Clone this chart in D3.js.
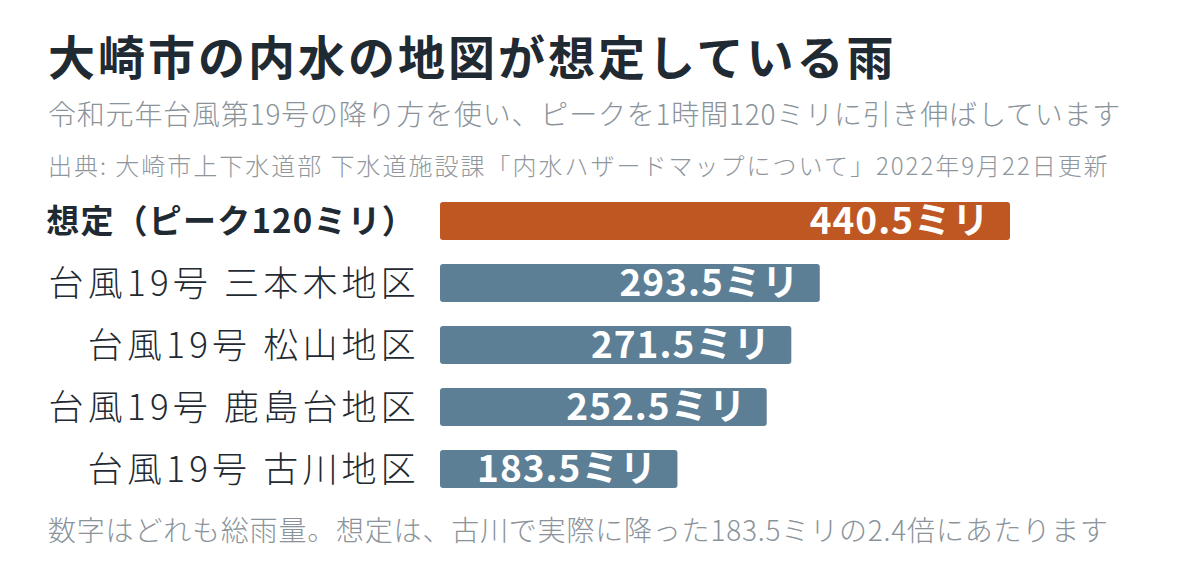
<!DOCTYPE html>
<html>
<head>
<meta charset="utf-8">
<script src="https://cdn.jsdelivr.net/npm/d3@7"></script>
<style>
  body { margin: 0; background: #fff; }
  svg { font-family: "Noto Sans CJK JP", "Noto Sans", sans-serif; }
  .title { font-size: 47px; font-weight: 700; fill: #1f2a33; letter-spacing: 3px; }
  .sub { font-size: 28px; font-weight: 300; fill: #8a939a; letter-spacing: 0.8px; }
  .source { font-size: 24px; font-weight: 300; fill: #8f979d; letter-spacing: 2px; }
  .cat { font-size: 35px; font-weight: 300; fill: #1f2a33; letter-spacing: 4.2px; }
  .cat.main { font-weight: 700; font-size: 33px; letter-spacing: 1.2px; }
  .val { font-size: 37px; font-weight: 700; fill: #fff; letter-spacing: 1px; }
  .note { font-size: 28px; font-weight: 300; fill: #8a939a; letter-spacing: 0.8px; }
</style>
</head>
<body>
<svg id="chart" width="1200" height="576"></svg>
<script>
var categories = [
    "想定（ピーク120ミリ）",
    "台風19号 三本木地区",
    "台風19号 松山地区",
    "台風19号 鹿島台地区",
    "台風19号 古川地区"
];
var rainfall = [440.5, 293.5, 271.5, 252.5, 183.5];
var valueLabels = ["440.5ミリ", "293.5ミリ", "271.5ミリ", "252.5ミリ", "183.5ミリ"];

var title = "大崎市の内水の地図が想定している雨";
var subtitle = "令和元年台風第19号の降り方を使い、ピークを1時間120ミリに引き伸ばしています";
var source = "出典: 大崎市上下水道部 下水道施設課「内水ハザードマップについて」2022年9月22日更新";
var note = "数字はどれも総雨量。想定は、古川で実際に降った183.5ミリの2.4倍にあたります";

var svg = d3.select("#chart");

var data = categories.map(function (c, i) {
    return { name: c, value: rainfall[i], label: valueLabels[i], main: i === 0 };
});

var x = d3.scaleLinear()
    .domain([0, 440.5])
    .range([440, 1010]);

var y = d3.scaleBand()
    .domain(categories)
    .range([202, 488])
    .paddingInner(0.387)
    .paddingOuter(0);

svg.append("text").attr("class", "title").attr("x", 48).attr("y", 75).text(title);
svg.append("text").attr("class", "sub").attr("x", 48).attr("y", 125).text(subtitle);
svg.append("text").attr("class", "source").attr("x", 48).attr("y", 175).text(source);

var rows = svg.selectAll(".row")
    .data(data)
    .enter()
    .append("g")
    .attr("class", "row");

rows.append("rect")
    .attr("x", x(0))
    .attr("y", function (d) { return y(d.name); })
    .attr("width", function (d) { return x(d.value) - x(0); })
    .attr("height", y.bandwidth())
    .attr("rx", 3)
    .attr("fill", function (d) { return d.main ? "#bf5722" : "#5c7f96"; });

rows.append("text")
    .attr("class", function (d) { return d.main ? "cat main" : "cat"; })
    .attr("x", function (d) { return d.main ? 416 : 420; })
    .attr("y", function (d) { return y(d.name) + y.bandwidth() / 2; })
    .attr("dy", "0.37em")
    .attr("text-anchor", "end")
    .text(function (d) { return d.name; });

rows.append("text")
    .attr("class", "val")
    .attr("x", function (d) { return x(d.value) - 20; })
    .attr("y", function (d) { return y(d.name) + y.bandwidth() / 2; })
    .attr("dy", "0.36em")
    .attr("text-anchor", "end")
    .text(function (d) { return d.label; });

svg.append("text").attr("class", "note").attr("x", 48).attr("y", 541).text(note);
</script>
</body>
</html>
